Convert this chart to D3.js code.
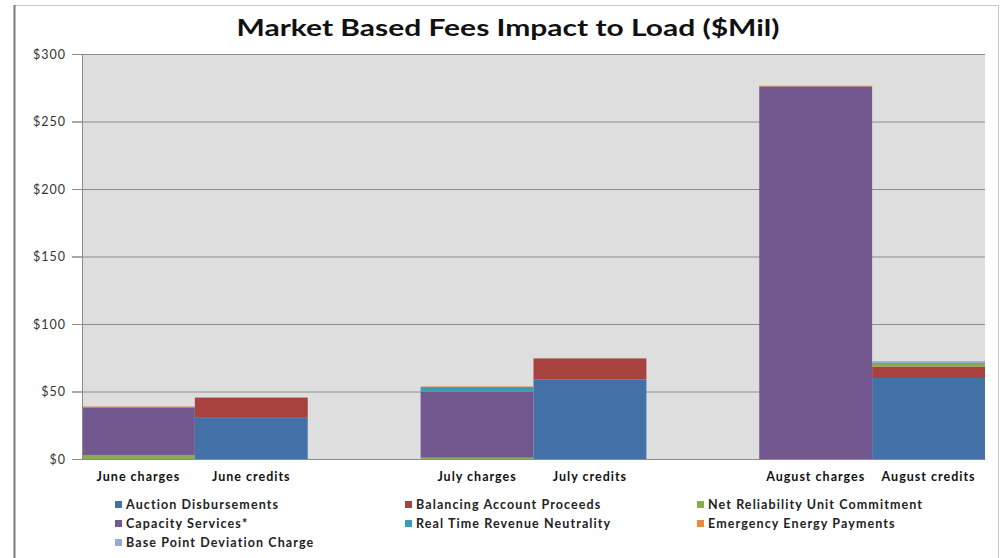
<!DOCTYPE html>
<html>
<head>
<meta charset="utf-8">
<script src="https://cdn.jsdelivr.net/npm/d3@7/dist/d3.min.js"></script>
<style>
  body { margin: 0; background: #fff; }
  text { font-family: Lato, "Open Sans", sans-serif; }
</style>
</head>
<body>
<div id="chart"></div>
<script>
// categories (empty strings are the gaps between months)
var categories = ["June charges", "June credits", "", "July charges", "July credits", "", "August charges", "August credits"];

// series values, $Mil
var auction        = [0, 30.5, 0, 0, 59,   0, 0,   60];
var balancing      = [0, 15,   0, 0, 15.5, 0, 0,   8.5];
var netReliability = [3, 0,    0, 1, 0,    0, 0,   2];
var capacity       = [35, 0,   0, 49, 0,   0, 276, 0];
var realTime       = [0.6, 0,  0, 3.4, 0,  0, 0,   1];
var emergency      = [0.3, 0,  0, 0.3, 0,  0, 0.5, 0];
var basePoint      = [0, 0,    0, 0, 0,    0, 0,   1];

var seriesNames = ["Auction Disbursements", "Balancing Account Proceeds", "Net Reliability Unit Commitment",
	"Capacity Services*", "Real Time Revenue Neutrality", "Emergency Energy Payments", "Base Point Deviation Charge"];
var seriesValues = [auction, balancing, netReliability, capacity, realTime, emergency, basePoint];
var colors = ["#4471a8", "#a8423f", "#8aab4f", "#72588e", "#3d9bb6", "#e88a3c", "#97acd0"];

var yTicks = [0, 50, 100, 150, 200, 250, 300];

var W = 1004, H = 558;
var margin = {top: 54, right: 19, bottom: 99, left: 82};
var width = W - margin.left - margin.right,
	height = H - margin.top - margin.bottom;

var svg = d3.select("#chart").append("svg")
	.attr("width", W)
	.attr("height", H);

// outer frame
svg.append("rect")
	.attr("x", 14.5).attr("y", 5.5)
	.attr("width", 984).attr("height", 560)
	.attr("fill", "#fff")
	.attr("stroke", "#c8c8c8");
svg.append("line")
	.attr("x1", 14.5).attr("x2", 14.5).attr("y1", 5).attr("y2", H)
	.attr("stroke", "#7a7a7a").attr("stroke-width", 2);

// title
svg.append("text")
	.attr("x", 508).attr("y", 36)
	.attr("text-anchor", "middle")
	.attr("font-size", 23)
	.attr("font-weight", "bold")
	.attr("textLength", 543)
	.attr("lengthAdjust", "spacingAndGlyphs")
	.attr("fill", "#111")
	.text("Market Based Fees Impact to Load ($Mil)");

var g = svg.append("g")
	.attr("transform", "translate(" + margin.left + "," + margin.top + ")");

var x = d3.scaleBand()
	.domain(d3.range(categories.length))
	.range([0, width])
	.padding(0);

var y = d3.scaleLinear()
	.domain([0, 300])
	.range([height, 0]);

// plot background
g.append("rect")
	.attr("width", width).attr("height", height)
	.attr("fill", "#dedede");

// gridlines
g.selectAll(".grid")
	.data(yTicks)
	.enter().append("line")
	.attr("x1", -10).attr("x2", width)
	.attr("y1", function(d) { return y(d) + 0.5; })
	.attr("y2", function(d) { return y(d) + 0.5; })
	.attr("stroke", "#8c8c8c");

// stacked bars
var table = categories.map(function(c, i) {
	var row = {i: i};
	seriesNames.forEach(function(s, k) { row[s] = seriesValues[k][i]; });
	return row;
});
var stacked = d3.stack().keys(seriesNames)(table);

g.selectAll(".layer")
	.data(stacked)
	.enter().append("g")
	.attr("fill", function(d, k) { return colors[k]; })
	.selectAll("rect")
	.data(function(d) { return d; })
	.enter().append("rect")
	.attr("x", function(d) { return x(d.data.i); })
	.attr("width", x.bandwidth())
	.attr("y", function(d) { return y(d[1]); })
	.attr("height", function(d) { return y(d[0]) - y(d[1]); });

// y axis
var yAxis = g.append("g")
	.call(d3.axisLeft(y).tickValues(yTicks).tickSize(10).tickFormat(function(d) { return "$" + d; }));
yAxis.select(".domain").attr("stroke", "#8c8c8c");
yAxis.selectAll(".tick line").attr("stroke", "#8c8c8c");
yAxis.selectAll("text")
	.attr("font-size", 12.5)
	.attr("fill", "#333")
	.attr("dx", -3)
	.style("letter-spacing", "1px");

// x axis
var xAxis = g.append("g")
	.attr("transform", "translate(0," + height + ")")
	.call(d3.axisBottom(x).tickSize(0).tickFormat(function(i) { return categories[i]; }));
xAxis.select(".domain").attr("stroke", "#8c8c8c");
xAxis.selectAll("text")
	.attr("font-size", 12.5)
	.attr("font-weight", "bold")
	.attr("fill", "#111")
	.attr("dy", "1.55em")
	.style("letter-spacing", "1px");

// legend
var legendCols = [115, 405, 697],
	legendRows = [505, 524, 543];
var legend = svg.selectAll(".legend")
	.data(seriesNames)
	.enter().append("g")
	.attr("transform", function(d, k) {
		return "translate(" + legendCols[k % 3] + "," + legendRows[Math.floor(k / 3)] + ")";
	});
legend.append("rect")
	.attr("x", 0).attr("y", -4)
	.attr("width", 7).attr("height", 7)
	.attr("fill", function(d, k) { return colors[k]; });
legend.append("text")
	.attr("x", 11).attr("y", 4)
	.attr("font-size", 12.5)
	.attr("font-weight", "bold")
	.attr("fill", "#222")
	.style("letter-spacing", "1.1px")
	.text(function(d) { return d; });
</script>
</body>
</html>
